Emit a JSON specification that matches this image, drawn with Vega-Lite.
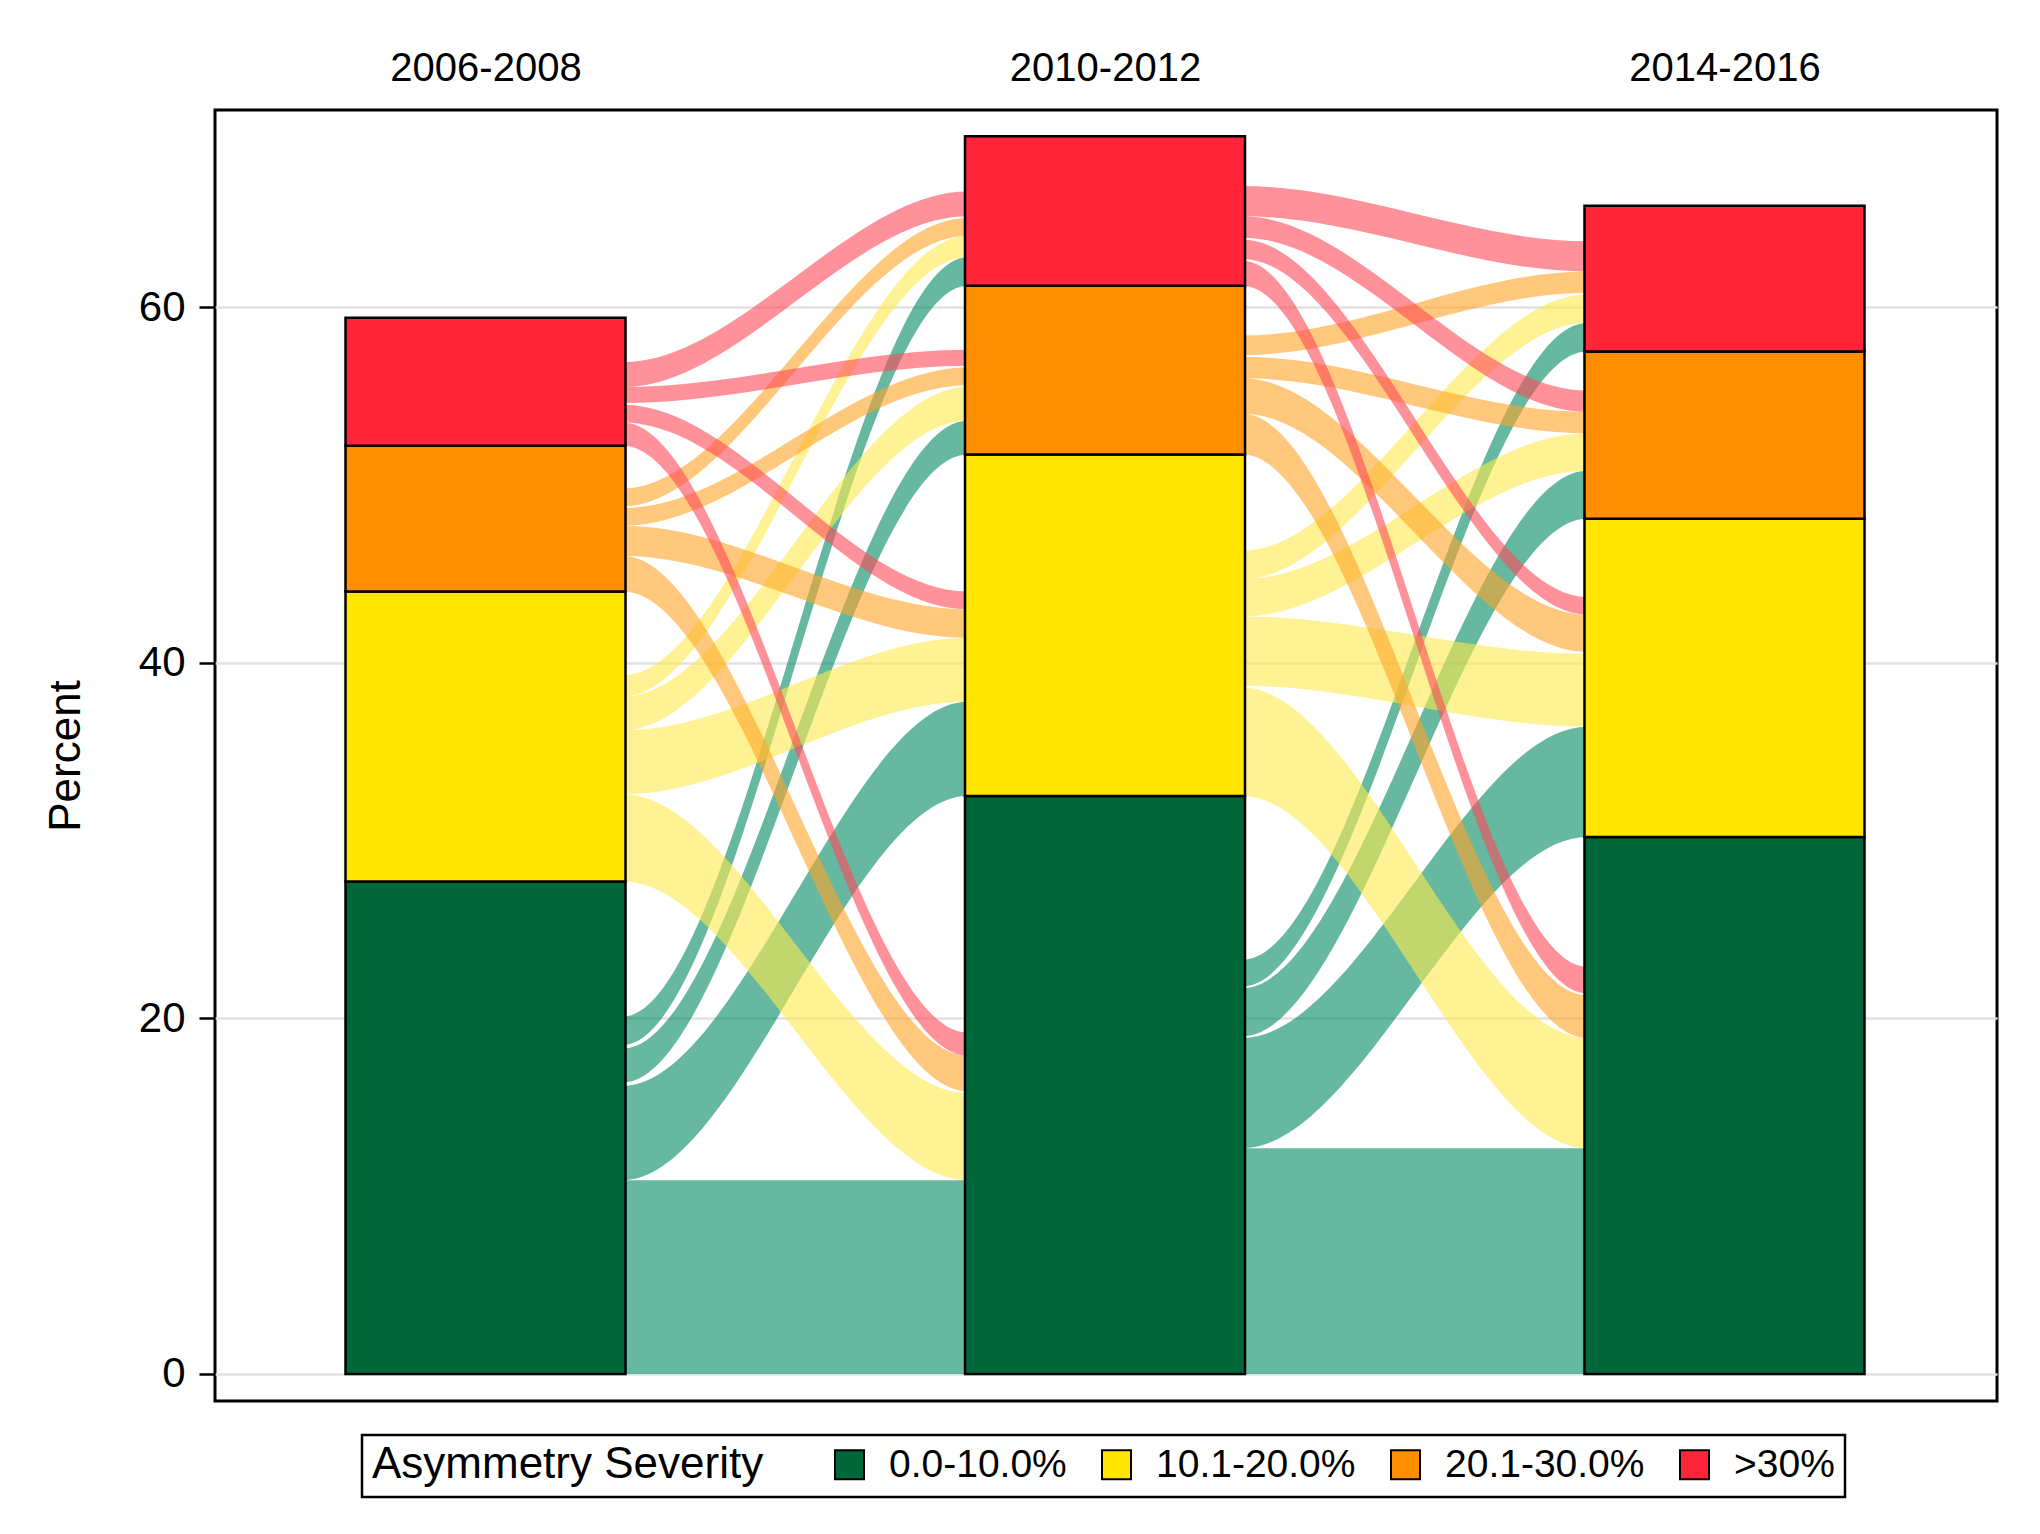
{
  "$schema": "https://vega.github.io/schema/vega-lite/v6.json",
  "description": "Alluvial chart of asymmetry severity across three periods.",
  "autosize": "none",
  "width": 1782,
  "height": 1291,
  "padding": {"left": 215, "top": 110, "right": 43, "bottom": 133},
  "background": "white",
  "config": {
    "font": "Liberation Sans",
    "view": {"stroke": "black", "strokeWidth": 3},
    "axis": {"labelColor": "black", "titleColor": "black", "labelFontWeight": "normal", "titleFontWeight": "normal", "labelLimit": 0},
    "legend": {"strokeWidth": 2.5, "labelLimit": 0, "titleLimit": 0}
  },
  "datasets": {
    "bars": [
      {"period": 0, "sev": "0.0-10.0%", "rank": 1, "pct": 27.7},
      {"period": 0, "sev": "10.1-20.0%", "rank": 2, "pct": 16.3},
      {"period": 0, "sev": "20.1-30.0%", "rank": 3, "pct": 8.2},
      {"period": 0, "sev": ">30%", "rank": 4, "pct": 7.2},
      {"period": 1, "sev": "0.0-10.0%", "rank": 1, "pct": 32.5},
      {"period": 1, "sev": "10.1-20.0%", "rank": 2, "pct": 19.2},
      {"period": 1, "sev": "20.1-30.0%", "rank": 3, "pct": 9.5},
      {"period": 1, "sev": ">30%", "rank": 4, "pct": 8.4},
      {"period": 2, "sev": "0.0-10.0%", "rank": 1, "pct": 30.2},
      {"period": 2, "sev": "10.1-20.0%", "rank": 2, "pct": 17.9},
      {"period": 2, "sev": "20.1-30.0%", "rank": 3, "pct": 9.4},
      {"period": 2, "sev": ">30%", "rank": 4, "pct": 8.2}
    ],
    "flows": [
      {"f": "1GG", "sev": "0.0-10.0%", "t": 0, "lo": 0, "hi": 10.9},
      {"f": "1GG", "sev": "0.0-10.0%", "t": 0.222, "lo": 0, "hi": 10.9},
      {"f": "1GG", "sev": "0.0-10.0%", "t": 0.778, "lo": 0, "hi": 10.9},
      {"f": "1GG", "sev": "0.0-10.0%", "t": 1, "lo": 0, "hi": 10.9},
      {"f": "1GY", "sev": "0.0-10.0%", "t": 0, "lo": 10.9, "hi": 16.2},
      {"f": "1GY", "sev": "0.0-10.0%", "t": 0.222, "lo": 10.9, "hi": 16.2},
      {"f": "1GY", "sev": "0.0-10.0%", "t": 0.778, "lo": 32.5, "hi": 37.8},
      {"f": "1GY", "sev": "0.0-10.0%", "t": 1, "lo": 32.5, "hi": 37.8},
      {"f": "1GO", "sev": "0.0-10.0%", "t": 0, "lo": 16.4, "hi": 18.3},
      {"f": "1GO", "sev": "0.0-10.0%", "t": 0.222, "lo": 16.4, "hi": 18.3},
      {"f": "1GO", "sev": "0.0-10.0%", "t": 0.778, "lo": 51.7, "hi": 53.6},
      {"f": "1GO", "sev": "0.0-10.0%", "t": 1, "lo": 51.7, "hi": 53.6},
      {"f": "1GR", "sev": "0.0-10.0%", "t": 0, "lo": 18.5, "hi": 20.1},
      {"f": "1GR", "sev": "0.0-10.0%", "t": 0.222, "lo": 18.5, "hi": 20.1},
      {"f": "1GR", "sev": "0.0-10.0%", "t": 0.778, "lo": 61.2, "hi": 62.8},
      {"f": "1GR", "sev": "0.0-10.0%", "t": 1, "lo": 61.2, "hi": 62.8},
      {"f": "1YG", "sev": "10.1-20.0%", "t": 0, "lo": 27.7, "hi": 32.6},
      {"f": "1YG", "sev": "10.1-20.0%", "t": 0.222, "lo": 27.7, "hi": 32.6},
      {"f": "1YG", "sev": "10.1-20.0%", "t": 0.778, "lo": 10.9, "hi": 15.8},
      {"f": "1YG", "sev": "10.1-20.0%", "t": 1, "lo": 10.9, "hi": 15.8},
      {"f": "1YY", "sev": "10.1-20.0%", "t": 0, "lo": 32.6, "hi": 36.2},
      {"f": "1YY", "sev": "10.1-20.0%", "t": 0.222, "lo": 32.6, "hi": 36.2},
      {"f": "1YY", "sev": "10.1-20.0%", "t": 0.778, "lo": 37.8, "hi": 41.4},
      {"f": "1YY", "sev": "10.1-20.0%", "t": 1, "lo": 37.8, "hi": 41.4},
      {"f": "1YO", "sev": "10.1-20.0%", "t": 0, "lo": 36.2, "hi": 38.1},
      {"f": "1YO", "sev": "10.1-20.0%", "t": 0.222, "lo": 36.2, "hi": 38.1},
      {"f": "1YO", "sev": "10.1-20.0%", "t": 0.778, "lo": 53.6, "hi": 55.5},
      {"f": "1YO", "sev": "10.1-20.0%", "t": 1, "lo": 53.6, "hi": 55.5},
      {"f": "1YR", "sev": "10.1-20.0%", "t": 0, "lo": 38.1, "hi": 39.3},
      {"f": "1YR", "sev": "10.1-20.0%", "t": 0.222, "lo": 38.1, "hi": 39.3},
      {"f": "1YR", "sev": "10.1-20.0%", "t": 0.778, "lo": 62.8, "hi": 64.0},
      {"f": "1YR", "sev": "10.1-20.0%", "t": 1, "lo": 62.8, "hi": 64.0},
      {"f": "1OG", "sev": "20.1-30.0%", "t": 0, "lo": 44.0, "hi": 46.0},
      {"f": "1OG", "sev": "20.1-30.0%", "t": 0.222, "lo": 44.0, "hi": 46.0},
      {"f": "1OG", "sev": "20.1-30.0%", "t": 0.778, "lo": 15.9, "hi": 17.9},
      {"f": "1OG", "sev": "20.1-30.0%", "t": 1, "lo": 15.9, "hi": 17.9},
      {"f": "1OY", "sev": "20.1-30.0%", "t": 0, "lo": 46.0, "hi": 47.7},
      {"f": "1OY", "sev": "20.1-30.0%", "t": 0.222, "lo": 46.0, "hi": 47.7},
      {"f": "1OY", "sev": "20.1-30.0%", "t": 0.778, "lo": 41.4, "hi": 43.0},
      {"f": "1OY", "sev": "20.1-30.0%", "t": 1, "lo": 41.4, "hi": 43.0},
      {"f": "1OO", "sev": "20.1-30.0%", "t": 0, "lo": 47.7, "hi": 48.7},
      {"f": "1OO", "sev": "20.1-30.0%", "t": 0.222, "lo": 47.7, "hi": 48.7},
      {"f": "1OO", "sev": "20.1-30.0%", "t": 0.778, "lo": 55.6, "hi": 56.6},
      {"f": "1OO", "sev": "20.1-30.0%", "t": 1, "lo": 55.6, "hi": 56.6},
      {"f": "1OR", "sev": "20.1-30.0%", "t": 0, "lo": 48.8, "hi": 49.8},
      {"f": "1OR", "sev": "20.1-30.0%", "t": 0.222, "lo": 48.8, "hi": 49.8},
      {"f": "1OR", "sev": "20.1-30.0%", "t": 0.778, "lo": 64.0, "hi": 65.0},
      {"f": "1OR", "sev": "20.1-30.0%", "t": 1, "lo": 64.0, "hi": 65.0},
      {"f": "1RG", "sev": ">30%", "t": 0, "lo": 52.2, "hi": 53.5},
      {"f": "1RG", "sev": ">30%", "t": 0.222, "lo": 52.2, "hi": 53.5},
      {"f": "1RG", "sev": ">30%", "t": 0.778, "lo": 17.9, "hi": 19.2},
      {"f": "1RG", "sev": ">30%", "t": 1, "lo": 17.9, "hi": 19.2},
      {"f": "1RY", "sev": ">30%", "t": 0, "lo": 53.5, "hi": 54.5},
      {"f": "1RY", "sev": ">30%", "t": 0.222, "lo": 53.5, "hi": 54.5},
      {"f": "1RY", "sev": ">30%", "t": 0.778, "lo": 43.0, "hi": 44.0},
      {"f": "1RY", "sev": ">30%", "t": 1, "lo": 43.0, "hi": 44.0},
      {"f": "1RO", "sev": ">30%", "t": 0, "lo": 54.6, "hi": 55.5},
      {"f": "1RO", "sev": ">30%", "t": 0.222, "lo": 54.6, "hi": 55.5},
      {"f": "1RO", "sev": ">30%", "t": 0.778, "lo": 56.7, "hi": 57.6},
      {"f": "1RO", "sev": ">30%", "t": 1, "lo": 56.7, "hi": 57.6},
      {"f": "1RR", "sev": ">30%", "t": 0, "lo": 55.5, "hi": 56.9},
      {"f": "1RR", "sev": ">30%", "t": 0.222, "lo": 55.5, "hi": 56.9},
      {"f": "1RR", "sev": ">30%", "t": 0.778, "lo": 65.1, "hi": 66.5},
      {"f": "1RR", "sev": ">30%", "t": 1, "lo": 65.1, "hi": 66.5},
      {"f": "2GG", "sev": "0.0-10.0%", "t": 1, "lo": 0, "hi": 12.7},
      {"f": "2GG", "sev": "0.0-10.0%", "t": 1.222, "lo": 0, "hi": 12.7},
      {"f": "2GG", "sev": "0.0-10.0%", "t": 1.778, "lo": 0, "hi": 12.7},
      {"f": "2GG", "sev": "0.0-10.0%", "t": 2, "lo": 0, "hi": 12.7},
      {"f": "2GY", "sev": "0.0-10.0%", "t": 1, "lo": 12.7, "hi": 18.9},
      {"f": "2GY", "sev": "0.0-10.0%", "t": 1.222, "lo": 12.7, "hi": 18.9},
      {"f": "2GY", "sev": "0.0-10.0%", "t": 1.778, "lo": 30.2, "hi": 36.4},
      {"f": "2GY", "sev": "0.0-10.0%", "t": 2, "lo": 30.2, "hi": 36.4},
      {"f": "2GO", "sev": "0.0-10.0%", "t": 1, "lo": 19.0, "hi": 21.7},
      {"f": "2GO", "sev": "0.0-10.0%", "t": 1.222, "lo": 19.0, "hi": 21.7},
      {"f": "2GO", "sev": "0.0-10.0%", "t": 1.778, "lo": 48.1, "hi": 50.8},
      {"f": "2GO", "sev": "0.0-10.0%", "t": 2, "lo": 48.1, "hi": 50.8},
      {"f": "2GR", "sev": "0.0-10.0%", "t": 1, "lo": 21.8, "hi": 23.3},
      {"f": "2GR", "sev": "0.0-10.0%", "t": 1.222, "lo": 21.8, "hi": 23.3},
      {"f": "2GR", "sev": "0.0-10.0%", "t": 1.778, "lo": 57.5, "hi": 59.1},
      {"f": "2GR", "sev": "0.0-10.0%", "t": 2, "lo": 57.5, "hi": 59.1},
      {"f": "2YG", "sev": "10.1-20.0%", "t": 1, "lo": 32.5, "hi": 38.6},
      {"f": "2YG", "sev": "10.1-20.0%", "t": 1.222, "lo": 32.5, "hi": 38.6},
      {"f": "2YG", "sev": "10.1-20.0%", "t": 1.778, "lo": 12.7, "hi": 18.9},
      {"f": "2YG", "sev": "10.1-20.0%", "t": 2, "lo": 12.7, "hi": 18.9},
      {"f": "2YY", "sev": "10.1-20.0%", "t": 1, "lo": 38.7, "hi": 42.6},
      {"f": "2YY", "sev": "10.1-20.0%", "t": 1.222, "lo": 38.7, "hi": 42.6},
      {"f": "2YY", "sev": "10.1-20.0%", "t": 1.778, "lo": 36.4, "hi": 40.5},
      {"f": "2YY", "sev": "10.1-20.0%", "t": 2, "lo": 36.4, "hi": 40.5},
      {"f": "2YO", "sev": "10.1-20.0%", "t": 1, "lo": 42.6, "hi": 44.7},
      {"f": "2YO", "sev": "10.1-20.0%", "t": 1.222, "lo": 42.6, "hi": 44.7},
      {"f": "2YO", "sev": "10.1-20.0%", "t": 1.778, "lo": 50.8, "hi": 52.9},
      {"f": "2YO", "sev": "10.1-20.0%", "t": 2, "lo": 50.8, "hi": 52.9},
      {"f": "2YR", "sev": "10.1-20.0%", "t": 1, "lo": 44.7, "hi": 46.3},
      {"f": "2YR", "sev": "10.1-20.0%", "t": 1.222, "lo": 44.7, "hi": 46.3},
      {"f": "2YR", "sev": "10.1-20.0%", "t": 1.778, "lo": 59.1, "hi": 60.7},
      {"f": "2YR", "sev": "10.1-20.0%", "t": 2, "lo": 59.1, "hi": 60.7},
      {"f": "2OG", "sev": "20.1-30.0%", "t": 1, "lo": 51.7, "hi": 54.0},
      {"f": "2OG", "sev": "20.1-30.0%", "t": 1.222, "lo": 51.7, "hi": 54.0},
      {"f": "2OG", "sev": "20.1-30.0%", "t": 1.778, "lo": 18.9, "hi": 21.3},
      {"f": "2OG", "sev": "20.1-30.0%", "t": 2, "lo": 18.9, "hi": 21.3},
      {"f": "2OY", "sev": "20.1-30.0%", "t": 1, "lo": 54.0, "hi": 56.0},
      {"f": "2OY", "sev": "20.1-30.0%", "t": 1.222, "lo": 54.0, "hi": 56.0},
      {"f": "2OY", "sev": "20.1-30.0%", "t": 1.778, "lo": 40.6, "hi": 42.7},
      {"f": "2OY", "sev": "20.1-30.0%", "t": 2, "lo": 40.6, "hi": 42.7},
      {"f": "2OO", "sev": "20.1-30.0%", "t": 1, "lo": 56.0, "hi": 57.2},
      {"f": "2OO", "sev": "20.1-30.0%", "t": 1.222, "lo": 56.0, "hi": 57.2},
      {"f": "2OO", "sev": "20.1-30.0%", "t": 1.778, "lo": 52.9, "hi": 54.1},
      {"f": "2OO", "sev": "20.1-30.0%", "t": 2, "lo": 52.9, "hi": 54.1},
      {"f": "2OR", "sev": "20.1-30.0%", "t": 1, "lo": 57.3, "hi": 58.4},
      {"f": "2OR", "sev": "20.1-30.0%", "t": 1.222, "lo": 57.3, "hi": 58.4},
      {"f": "2OR", "sev": "20.1-30.0%", "t": 1.778, "lo": 60.8, "hi": 62.0},
      {"f": "2OR", "sev": "20.1-30.0%", "t": 2, "lo": 60.8, "hi": 62.0},
      {"f": "2RG", "sev": ">30%", "t": 1, "lo": 61.2, "hi": 62.6},
      {"f": "2RG", "sev": ">30%", "t": 1.222, "lo": 61.2, "hi": 62.6},
      {"f": "2RG", "sev": ">30%", "t": 1.778, "lo": 21.4, "hi": 22.9},
      {"f": "2RG", "sev": ">30%", "t": 2, "lo": 21.4, "hi": 22.9},
      {"f": "2RY", "sev": ">30%", "t": 1, "lo": 62.7, "hi": 63.8},
      {"f": "2RY", "sev": ">30%", "t": 1.222, "lo": 62.7, "hi": 63.8},
      {"f": "2RY", "sev": ">30%", "t": 1.778, "lo": 42.7, "hi": 43.7},
      {"f": "2RY", "sev": ">30%", "t": 2, "lo": 42.7, "hi": 43.7},
      {"f": "2RO", "sev": ">30%", "t": 1, "lo": 63.9, "hi": 65.1},
      {"f": "2RO", "sev": ">30%", "t": 1.222, "lo": 63.9, "hi": 65.1},
      {"f": "2RO", "sev": ">30%", "t": 1.778, "lo": 54.1, "hi": 55.3},
      {"f": "2RO", "sev": ">30%", "t": 2, "lo": 54.1, "hi": 55.3},
      {"f": "2RR", "sev": ">30%", "t": 1, "lo": 65.1, "hi": 66.8},
      {"f": "2RR", "sev": ">30%", "t": 1.222, "lo": 65.1, "hi": 66.8},
      {"f": "2RR", "sev": ">30%", "t": 1.778, "lo": 62.0, "hi": 63.7},
      {"f": "2RR", "sev": ">30%", "t": 2, "lo": 62.0, "hi": 63.7}
    ]
  },
  "layer": [
    {
      "data": {"name": "flows"},
      "mark": {"type": "area", "interpolate": "monotone", "opacity": 0.6},
      "encoding": {
        "x": {
          "field": "t",
          "type": "quantitative",
          "scale": {"domain": [-0.4286, 2.4318], "nice": false, "zero": false},
          "axis": {
            "orient": "top",
            "values": [0, 1, 2],
            "labelExpr": "['2006-2008', '2010-2012', '2014-2016'][datum.value]",
            "labelFontSize": 40,
            "labelPadding": 22,
            "ticks": false,
            "tickSize": 0,
            "domain": false,
            "grid": false,
            "title": null
          }
        },
        "y": {
          "field": "lo",
          "type": "quantitative",
          "scale": {"domain": [-1.52, 71.08], "nice": false, "zero": false},
          "axis": {
            "values": [0, 20, 40, 60],
            "labelFontSize": 42,
            "labelPadding": 14,
            "tickSize": 16,
            "tickWidth": 2.5,
            "tickColor": "black",
            "domain": false,
            "grid": true,
            "gridColor": "#e2e2e2",
            "gridWidth": 2.5,
            "title": "Percent",
            "titleFontSize": 44,
            "titlePadding": 50
          }
        },
        "y2": {"field": "hi"},
        "detail": {"field": "f"},
        "color": {
          "field": "sev",
          "type": "nominal",
          "scale": {
            "domain": ["0.0-10.0%", "10.1-20.0%", "20.1-30.0%", ">30%"],
            "range": ["#008961", "#FFE94D", "#FFA326", "#FF4857"]
          },
          "legend": null
        }
      }
    },
    {
      "data": {"name": "bars"},
      "mark": {"type": "bar", "size": 280, "stroke": "black", "strokeWidth": 2.5},
      "encoding": {
        "x": {"field": "period", "type": "quantitative", "title": null},
        "y": {"field": "pct", "type": "quantitative", "stack": "zero", "title": "Percent"},
        "order": {"field": "rank", "type": "quantitative"},
        "color": {
          "field": "sev",
          "type": "nominal",
          "scale": {
            "domain": ["0.0-10.0%", "10.1-20.0%", "20.1-30.0%", ">30%"],
            "range": ["#00673A", "#FFE500", "#FF8E00", "#FF2538"]
          },
          "legend": {
            "title": "Asymmetry Severity",
            "orient": "none",
            "legendX": 147,
            "legendY": 1325,
            "direction": "horizontal",
            "columns": 4,
            "titleOrient": "left",
            "titleFontSize": 44,
            "titleFontWeight": "normal",
            "titleColor": "black",
            "titlePadding": 66,
            "labelFontSize": 39,
            "labelColor": "black",
            "labelOffset": 20,
            "columnPadding": 30,
            "symbolType": "square",
            "symbolSize": 841,
            "symbolStrokeColor": "black",
            "symbolStrokeWidth": 2,
            "symbolOpacity": 1,
            "padding": 10,
            "strokeColor": "black"
          }
        }
      }
    }
  ],
  "resolve": {"scale": {"color": "independent"}}
}
